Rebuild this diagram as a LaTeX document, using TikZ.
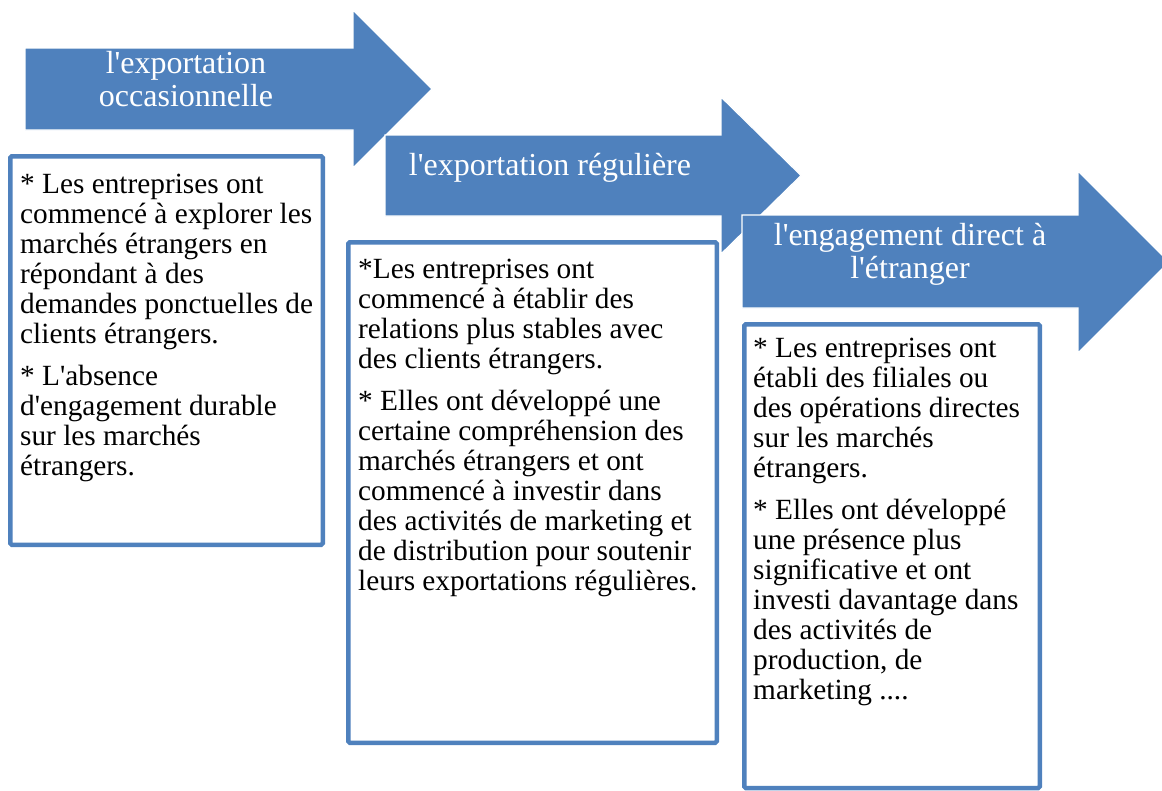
\documentclass[tikz,border=0pt]{standalone}
\usepackage{fontspec}
\setmainfont{Liberation Serif}
\newcommand{\apos}{{\addfontfeatures{Mapping=}\symbol{39}}}
\definecolor{office}{HTML}{4F81BD}
\begin{document}
\begin{tikzpicture}[x=1pt,y=-1pt,
  stagearrow/.style={fill=office, draw=white, line width=1.2pt, line join=miter},
  stagebox/.style={draw=office, line width=4.5pt, rounded corners=1.5pt, fill=white,
    inner sep=0pt, outer sep=0pt, anchor=north west},
  headtext/.style={text=white, font=\rmfamily\fontsize{32}{33}\selectfont, align=center,
    inner sep=0pt, anchor=north},
  bodytext/.style={text=black, font=\rmfamily\fontsize{29.3}{30}\selectfont, align=left,
    inner sep=0pt, anchor=north west}]
\useasboundingbox (0,0) rectangle (1162,790);

% stage arrows, each one laid over the previous
\path[stagearrow] (25,48) -- (353,48) -- (353,10) -- (432,89) -- (353,168) -- (353,130) -- (25,130) -- cycle;
\path[stagearrow] (385,135) -- (721,135) -- (721,97) -- (801,175.5) -- (721,254) -- (721,216) -- (385,216) -- cycle;
\path[stagearrow] (742,215) -- (1078,215) -- (1078,171) -- (1169,262) -- (1078,353) -- (1078,308) -- (742,308) -- cycle;

\node[headtext] (h1) at (186,49.9) {\strut l\apos exportation\\occasionnelle};
\node[headtext] (h2) at (550,151.9) {\strut l\apos exportation régulière};
\node[headtext] (h3) at (910,221.9) {\strut l\apos engagement direct à\\l\apos étranger};

% description boxes
\node[stagebox, minimum width=312.5pt, minimum height=388.5pt] (b1) at (10.25,156.25) {};
\node[stagebox, minimum width=368.5pt, minimum height=500.5pt] (b2) at (348.25,242.25) {};
\node[stagebox, minimum width=295.5pt, minimum height=463.75pt] (b3) at (744.25,324.25) {};

\node[bodytext] (t1) at (20,172) {\strut * Les entreprises ont\\
commencé à explorer les\\
marchés étrangers en\\
répondant à des\\
demandes ponctuelles de\\
clients étrangers.\\[12pt]
* L\apos absence\\
d\apos engagement durable\\
sur les marchés\\
étrangers.};

\node[bodytext] (t2) at (358,257) {\strut *Les entreprises ont\\
commencé à établir des\\
relations plus stables avec\\
des clients étrangers.\\[12pt]
* Elles ont développé une\\
certaine compréhension des\\
marchés étrangers et ont\\
commencé à investir dans\\
des activités de marketing et\\
de distribution pour soutenir\\
leurs exportations régulières.};

\node[bodytext] (t3) at (753,336) {\strut * Les entreprises ont\\
établi des filiales ou\\
des opérations directes\\
sur les marchés\\
étrangers.\\[12pt]
* Elles ont développé\\
une présence plus\\
significative et ont\\
investi davantage dans\\
des activités de\\
production, de\\
marketing ....};
\end{tikzpicture}
\end{document}
